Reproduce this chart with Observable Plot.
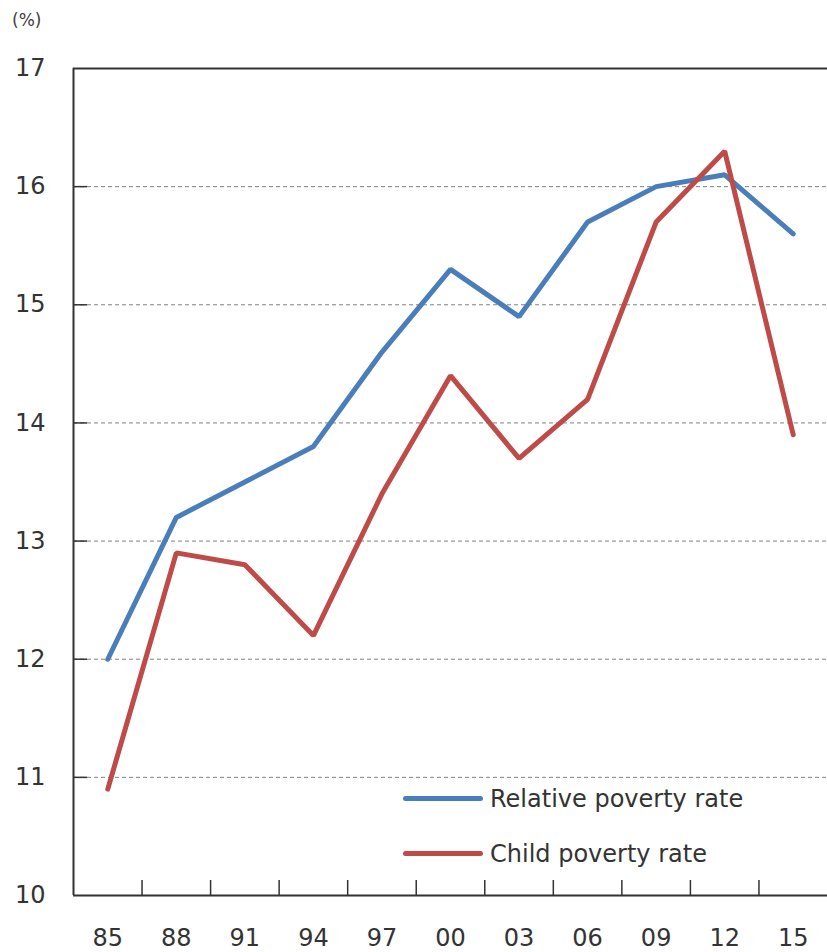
<!DOCTYPE html>
<html>
<head>
<meta charset="utf-8">
<script src="https://cdn.jsdelivr.net/npm/d3@7"></script>
<script src="https://cdn.jsdelivr.net/npm/@observablehq/plot@0.6"></script>
<style>
  body { margin: 0; background: #fff; font-family: "DejaVu Sans", sans-serif; }
  #wrap { position: relative; width: 827px; height: 952px; overflow: hidden; }
  #unit { position: absolute; left: 12px; top: 10px; font-size: 17px; color: #404040; }
  #legend { position: absolute; left: 403px; top: 771px; color: #333; font-size: 24px; }
  .item { display: flex; align-items: center; height: 55px; }
  .swatch { width: 80px; height: 5px; border-radius: 3px; margin-right: 7px; }
</style>
</head>
<body>
<div id="wrap">
  <div id="unit">(%)</div>
</div>
<script>
// Survey years (two-digit labels) and poverty rates in percent
const years = ["85", "88", "91", "94", "97", "00", "03", "06", "09", "12", "15"];
const relativeRate = [12.0, 13.2, 13.5, 13.8, 14.6, 15.3, 14.9, 15.7, 16.0, 16.1, 15.6];
const childRate = [10.9, 12.9, 12.8, 12.2, 13.4, 14.4, 13.7, 14.2, 15.7, 16.3, 13.9];
const seriesNames = ["Relative poverty rate", "Child poverty rate"];
const seriesColors = ["#4a7ebb", "#be4b48"];
const yTickValues = [10, 11, 12, 13, 14, 15, 16, 17];
const gridValues = [11, 12, 13, 14, 15, 16];

const rows = [relativeRate, childRate].flatMap((values, s) =>
  values.map((value, i) => ({ i, year: years[i], value, name: seriesNames[s] }))
);

// each year occupies one unit-wide slot; points sit at the slot centres
const centres = years.map((_, i) => i + 0.5);
const boundaries = d3.range(1, years.length);

const chart = Plot.plot({
  width: 827,
  height: 952,
  marginLeft: 73,
  marginRight: 0,
  marginTop: 68,
  marginBottom: 57,
  style: { fontFamily: "DejaVu Sans, sans-serif", fontSize: "24px", color: "#333", background: "transparent" },
  x: { type: "linear", domain: [0, years.length] },
  y: { domain: [10, 17] },
  color: { domain: seriesNames, range: seriesColors },
  marks: [
    Plot.gridY(gridValues, { stroke: "#808080", strokeOpacity: 1, strokeWidth: 1, strokeDasharray: "4,3" }),
    Plot.axisY(yTickValues, { tickSize: 0, tickPadding: 28, tickFormat: "d", label: null, fill: "#333" }),
    // short inward ticks on the left edge
    Plot.ruleY(gridValues, { x1: 0, x2: 0, insetRight: -14, stroke: "#333", strokeWidth: 1.5 }),
    Plot.axisX(centres, { tickSize: 0, tickPadding: 33, tickFormat: (d) => years[Math.floor(d)], label: null, fill: "#333" }),
    Plot.axisX(boundaries, { tickSize: -15, text: null, stroke: "#333", strokeWidth: 1.5, label: null }),
    Plot.ruleX([0], { stroke: "#333", strokeWidth: 2 }),
    Plot.ruleY([10], { stroke: "#333", strokeWidth: 2 }),
    Plot.ruleY([17], { stroke: "#333", strokeWidth: 2 }),
    Plot.line(rows, {
      x: (d) => d.i + 0.5,
      y: "value",
      z: "name",
      stroke: "name",
      strokeWidth: 5,
      strokeLinejoin: "miter",
      strokeLinecap: "round"
    })
  ]
});

const wrap = document.getElementById("wrap");
wrap.appendChild(chart);

// legend inside the plot area, lower right
const legend = document.createElement("div");
legend.id = "legend";
seriesNames.forEach((name, s) => {
  const item = document.createElement("div");
  item.className = "item";
  const sw = document.createElement("div");
  sw.className = "swatch";
  sw.style.background = seriesColors[s];
  const label = document.createElement("span");
  label.textContent = name;
  item.appendChild(sw);
  item.appendChild(label);
  legend.appendChild(item);
});
wrap.appendChild(legend);
</script>
</body>
</html>
